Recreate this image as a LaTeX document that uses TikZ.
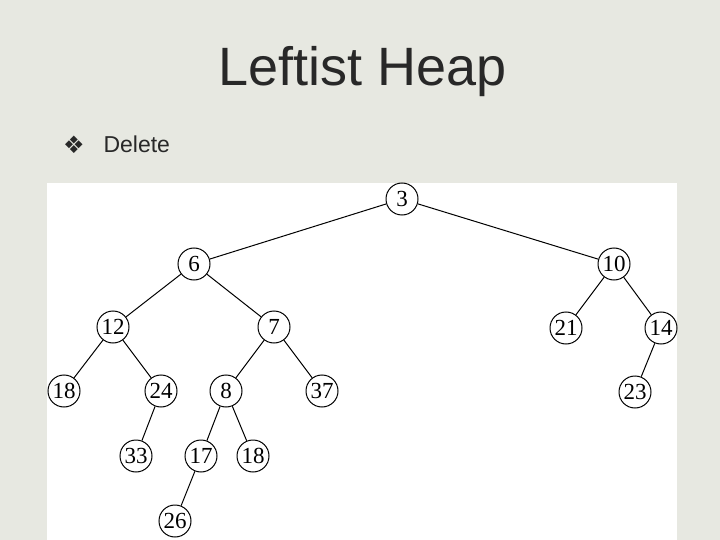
\documentclass[tikz,border=0pt]{standalone}
\usepackage{fontspec}
\setmainfont{Liberation Serif}
\newfontfamily\folienschrift{Liberation Sans}
\newfontfamily\symbolschrift{DejaVu Sans}
\definecolor{hintergrund}{RGB}{231,232,225}
\definecolor{schrift}{RGB}{40,40,40}
\tikzset{
	knoten/.style={circle,draw,line width=1pt,minimum size=32pt,inner sep=0pt,font=\fontsize{23}{23}\selectfont},
	kante/.style={draw,line width=1pt}
}
\begin{document}
\begin{tikzpicture}[x=1pt,y=-1pt]
	\useasboundingbox (0,0) rectangle (720,540);
	\fill[hintergrund] (0,0) rectangle (720,540);
	\node[font=\folienschrift\fontsize{54}{54}\selectfont,text=schrift] (titel) at (363,72) {Leftist Heap};
	\node[font=\symbolschrift\fontsize{24}{24}\selectfont,text=schrift] (punkt) at (74,145) {❖};
	\node[font=\folienschrift\fontsize{23}{23}\selectfont,text=schrift,anchor=west] (loeschen) at (100,144) {Delete};
	\fill[white] (47,183) rectangle (677,540);
	%
	\node[knoten] (a) at (402,199) {3};
	%
	\node[knoten] (b) at (194,264) {6};
	\node[knoten] (c) at (614,264) {10};
	%
	\node[knoten] (d) at (113,327) {12};
	\node[knoten] (e) at (274,327) {7};
	\node[knoten] (f) at (566,328) {21};
	\node[knoten] (g) at (661,328) {14};
	%
	\node[knoten] (h) at (64,391) {18};
	\node[knoten] (i) at (161,391) {24};
	\node[knoten] (j) at (226,391) {8};
	\node[knoten] (k) at (322,391) {37};
	\node[knoten] (l) at (635,392) {23};
	%
	\node[knoten] (m) at (136,456) {33};
	\node[knoten] (n) at (201,456) {17};
	\node[knoten] (o) at (253,456) {18};
	%
	\node[knoten] (p) at (175,521) {26};
	%
	\draw[kante] (a) -- (b);
	\draw[kante] (a) -- (c);
	\draw[kante] (b) -- (d);
	\draw[kante] (b) -- (e);
	\draw[kante] (c) -- (f);
	\draw[kante] (c) -- (g);
	\draw[kante] (d) -- (h);
	\draw[kante] (d) -- (i);
	\draw[kante] (e) -- (j);
	\draw[kante] (e) -- (k);
	\draw[kante] (g) -- (l);
	\draw[kante] (i) -- (m);
	\draw[kante] (j) -- (n);
	\draw[kante] (j) -- (o);
	\draw[kante] (n) -- (p);
	%
\end{tikzpicture}
\end{document}
